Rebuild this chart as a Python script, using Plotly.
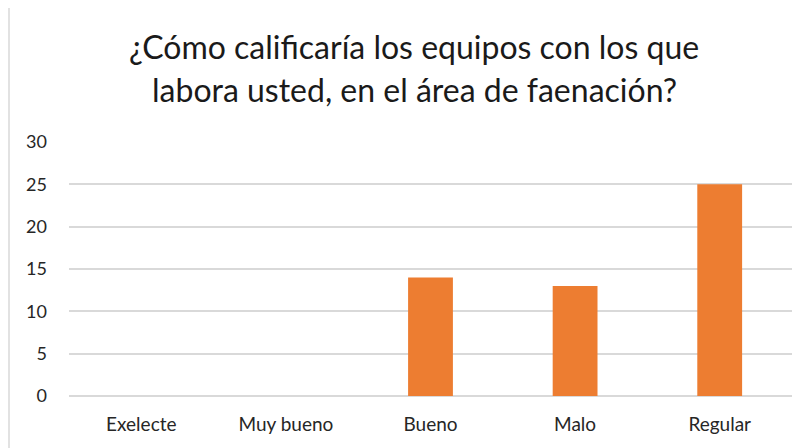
import plotly.graph_objects as go

categories = ["Exelecte", "Muy bueno", "Bueno", "Malo", "Regular"]
values = [0, 0, 14, 13, 25]
y_ticks = [0, 5, 10, 15, 20, 25, 30]
title_lines = ["¿Cómo calificaría los equipos con los que",
               "labora usted, en el área de faenación?"]

FONT = "Lato, 'Open Sans', sans-serif"

# page body has an 8px margin; plot area in figure coords: x 61..784, y 134..388
OFF = 8
def py(pix):
    return (388 - (pix - OFF)) / 254

def px(pix):
    return ((pix - OFF) - 61) / 723

fig = go.Figure(go.Bar(x=categories, y=values, marker_color="#ED7D31",
                       marker_line_width=0, width=0.31))

fig.update_layout(
    width=798, height=440,
    margin=dict(l=61, r=14, t=134, b=52),
    paper_bgcolor="white", plot_bgcolor="white",
    showlegend=False,
    font=dict(family=FONT, color="#262626"),
    xaxis=dict(showgrid=False, showline=False, zeroline=False,
               tickfont=dict(size=19), ticklabelstandoff=15),
    yaxis=dict(range=[0, 30], tickvals=y_ticks, showgrid=True,
               gridcolor="#D9D9D9", gridwidth=1.5, zeroline=True,
               zerolinecolor="#D9D9D9", zerolinewidth=1.5, showline=False,
               tickfont=dict(size=18), ticklabelstandoff=21),
    annotations=[
        dict(text=title_lines[0], x=px(414), xref="paper", y=py(46), yref="paper",
             yanchor="middle", showarrow=False, font=dict(size=32, color="#1a1a1a")),
        dict(text=title_lines[1], x=px(414), xref="paper", y=py(90), yref="paper",
             yanchor="middle", showarrow=False, font=dict(size=32, color="#1a1a1a")),
    ],
    shapes=[dict(type="rect", xref="paper", yref="paper",
                 x0=px(9), x1=1.2, y0=-0.5, y1=py(7),
                 line=dict(color="#D9D9D9", width=1.5), layer="below")],
)

fig.write_html("out.html")
